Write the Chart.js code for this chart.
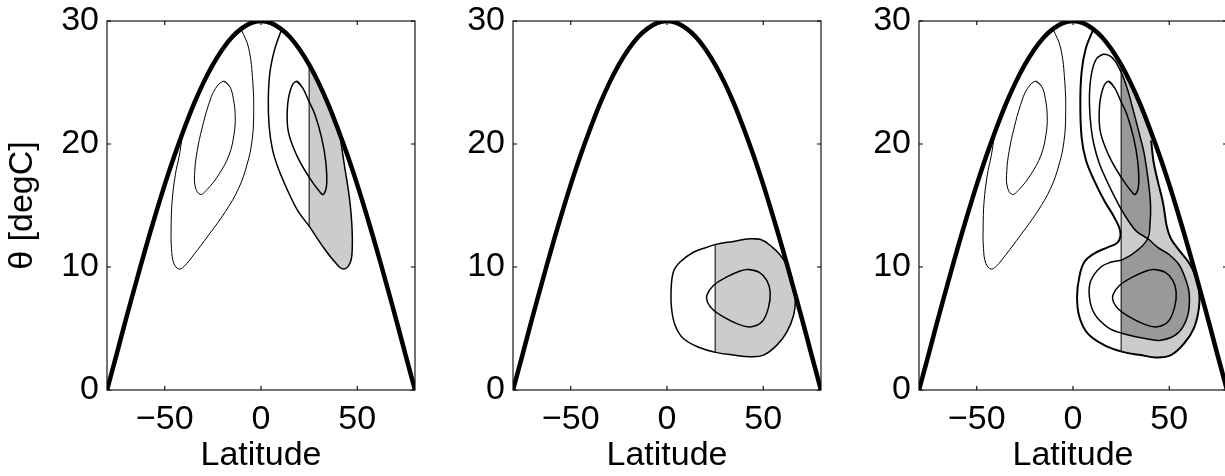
<!DOCTYPE html>
<html><head><meta charset="utf-8">
<script src="https://cdn.jsdelivr.net/npm/chart.js@4.4.1/dist/chart.umd.min.js"></script>
<style>
html,body{margin:0;padding:0;background:#fff;overflow:hidden;width:1225px;height:476px;}
#wrap{position:relative;width:1225px;height:476px;overflow:hidden;background:#fff;}
canvas{position:absolute;top:0;}
</style></head><body>
<div id="wrap">
<canvas id="p1" width="421" height="476" style="left:0px"></canvas>
<canvas id="p2" width="421" height="476" style="left:406px"></canvas>
<canvas id="p3" width="421" height="476" style="left:812px"></canvas>
</div>
<script>
// ---- axis ticks / titles ----
const xTickValues = [-50, 0, 50];
const xTickLabels = ['\u221250', '0', '50'];
const yTickValues = [0, 10, 20, 30];
const yTickLabels = ['0', '10', '20', '30'];
const xTitle = 'Latitude';
const yTitle = '\u03b8 [degC]';

// ---- thick boundary curve ----
const boundaryLat = [-80,-75,-70,-65,-60,-55,-50,-45,-40,-35,-30,-25,-20,-15,-10,-5,0,5,10,15,20,25,30,35,40,45,50,55,60,65,70,75,80];
const boundaryTheta = [0,2.9,5.85,8.7,11.5,14.15,16.7,19.05,21.2,23.2,24.95,26.45,27.7,28.7,29.4,29.85,30,29.85,29.4,28.7,27.7,26.45,24.95,23.2,21.2,19.05,16.7,14.15,11.5,8.7,5.85,2.9,0];

// ---- southern-side contours (panels 1 and 3) ----
const leftOuterContour = [[-10.2,29.3],[-6.4,27.8],[-4.3,25.1],[-3.8,22.4],[-4.7,20.2],[-7.3,18.3],[-11.6,16.4],[-18.5,14.5],[-27.2,12.6],[-34.9,11.0],[-40.1,10.03],[-42.7,9.84],[-45.3,10.3],[-46.5,11.5],[-46.7,13.1],[-46.2,15.3],[-44.5,17.5],[-42.4,19.1],[-40.9,20.6]];
const leftInnerLoop = [[-19.4,25.1],[-16.3,24.7],[-14.4,23.7],[-13.4,22.3],[-14.0,20.8],[-16.6,19.1],[-22.0,17.5],[-28.0,16.3],[-31.5,15.9],[-34.1,16.5],[-34.4,17.8],[-33.2,19.4],[-30.6,21.3],[-27.2,23.2],[-23.7,24.5]];

// ---- panel 1 northern contours ----
const rightOuterContour = [[10.7,29.3],[7.3,27.8],[4.7,25.9],[3.8,23.7],[4.2,21.5],[5.9,19.6],[9.0,18.0],[14.2,16.1],[19.4,14.5],[25.1,13.3],[31.5,11.8],[38.4,10.4],[42.7,9.84],[46.2,10.3],[47.4,11.5],[47.1,13.7],[45.7,15.9],[43.6,18.0],[41.3,20.4]];
const rightInnerLoop = [[18.5,25.1],[21.5,24.6],[24.5,23.6],[28.0,22.4],[31.5,20.5],[33.6,18.6],[34.1,16.7],[32.4,15.9],[30.6,16.1],[25.4,17.2],[18.5,19.1],[14.2,21.0],[13.7,22.9],[15.5,24.5]];
const p1Shade = [[25,13.3],[25,26.4],[25,26.4],[30,24.95],[35,23.2],[40,21.2],[41.3,20.5],[41.3,20.5],[43.6,18.0],[45.7,15.9],[47.1,13.7],[47.4,11.5],[46.2,10.3],[42.7,9.84],[38.4,10.4],[31.5,11.8],[25,13.3]];
const p1Divider = [[25,13.3],[25,26.4]];

// ---- panel 2 contours ----
const p2OuterLoop = [[43.2,12.3],[48.4,12.25],[53.6,11.76],[58.9,10.95],[63.2,9.87],[65.8,8.5],[66.7,7.4],[65.8,6.1],[62.3,4.73],[57.1,3.65],[50.2,2.84],[43.2,2.7],[34.5,2.84],[25.4,3.06],[17.2,3.43],[8.5,4.19],[4.2,5.27],[2.4,6.6],[2.1,7.97],[3.3,9.6],[6.8,10.4],[13.7,11.2],[20.7,11.6],[25.4,11.84],[34.5,12.08]];
const p2InnerLoop = [[42.3,9.8],[47.6,9.6],[51.9,8.9],[53.6,7.97],[52.8,6.76],[49.3,5.54],[43.2,5.13],[36.3,5.4],[29.3,5.95],[24.1,6.5],[21.0,7.16],[20.7,7.7],[24.1,8.5],[31.1,9.19],[38.0,9.68]];
const p2Shade = [[25,3.06],[25,11.84],[25,11.84],[34.5,12.08],[43.2,12.3],[48.4,12.25],[53.6,11.76],[58.9,10.95],[63.2,9.87],[65.8,8.5],[66.7,7.4],[65.8,6.1],[62.3,4.73],[57.1,3.65],[50.2,2.84],[43.2,2.7],[34.5,2.84],[25,3.06]];
const p2Divider = [[25,3.06],[25,11.84]];

// ---- panel 3 northern contours ----
const p3OuterContour = [[10.5,29.3],[6.7,27.8],[4.5,25.9],[3.8,23.3],[4.5,20.5],[6.7,18.7],[11.1,17.0],[16.2,15.4],[21.4,14.05],[24.6,12.84],[23.2,12.0],[18.0,11.6],[11.1,11.1],[5.9,10.4],[3.3,9.2],[2.1,7.6],[3.3,5.95],[7.6,4.6],[16.2,3.65],[25.8,3.1],[35.3,2.84],[43.1,2.65],[50.9,2.84],[57.8,3.8],[63.0,5.1],[65.5,6.75],[65.5,8.1],[63.8,9.2],[60.4,10.3],[55.2,11.35],[50.9,12.3],[48.8,13.25],[47.7,14.3],[46.5,15.4],[44.0,17.0],[41.8,18.6],[40.6,20.3]];
const p3MiddleLoop = [[16,27.3],[12.5,27.0],[10,26.0],[8.7,24.5],[8.6,23],[9.3,21.5],[10.8,20.0],[13.5,18.5],[17,17.2],[21,15.9],[25,14.7],[29,13.7],[33,12.9],[38.8,12.3],[44,11.6],[50,11.0],[55,10.2],[58.5,9.0],[60.4,7.8],[59.5,6.0],[54.3,4.6],[45.7,4.05],[37,4.2],[25.8,4.6],[18,5.1],[11.1,6.2],[8.5,7.6],[9.3,8.9],[14.5,10.0],[20,10.4],[25.8,10.6],[33,11.3],[38.8,12.3],[40,13.5],[40.3,15.0],[39.1,17.0],[37,19.2],[35,20.5],[32.7,21.9],[30.5,23.2],[28,24.6],[24.5,26.0],[20.5,27.0]];
const p3LightShade = [[25,3.12],[25,26.4],[25,26.4],[30,24.95],[35,23.2],[40,21.2],[40.6,20.3],[40.6,20.3],[41.8,18.6],[44.0,17.0],[46.5,15.4],[47.7,14.3],[48.8,13.25],[50.9,12.3],[55.2,11.35],[60.4,10.3],[63.8,9.2],[65.5,8.1],[65.5,6.75],[63.0,5.1],[57.8,3.8],[50.9,2.84],[43.1,2.65],[35.3,2.84],[25.8,3.1],[25,3.12]];
const p3DarkShade = [[25,14.7],[25,25.9],[25,25.9],[28,24.6],[30.5,23.2],[32.7,21.9],[35,20.5],[37,19.2],[39.1,17.0],[40.3,15.0],[40,13.5],[38.8,12.3],[44,11.6],[50,11.0],[55,10.2],[58.5,9.0],[60.4,7.8],[59.5,6.0],[54.3,4.6],[45.7,4.05],[37,4.2],[25.8,4.6],[25,4.62],[25,4.62],[25,10.6],[25,10.6],[33,11.3],[38.8,12.3],[33,12.9],[29,13.7],[25,14.7]];
const p3Divider = [[25,3.12],[25,26.4]];

// ---- helpers ----
const FONT = '"Liberation Sans", Arial, Helvetica, sans-serif';
const toXY = pts => pts.map(p => ({x: p[0], y: p[1]}));
const closed = pts => pts.concat([pts[0], pts[1]]);
const boundaryPts = boundaryLat.map((v, i) => [v, boundaryTheta[i]]);

function lineDs(pts, width, order) {
  return {data: toXY(pts), borderColor: '#000', borderWidth: width, pointRadius: 0,
    tension: 0.4, fill: false, order: order, clip: 0};
}
function straightDs(pts, width, order) {
  return {data: toXY(pts), borderColor: '#000', borderWidth: width, pointRadius: 0,
    tension: 0, fill: false, order: order, clip: 0};
}
function areaDs(pts, color, order) {
  return {data: toXY(pts), borderColor: 'rgba(0,0,0,0)', borderWidth: 0, backgroundColor: color,
    pointRadius: 0, tension: 0.4, fill: 'shape', order: order, clip: 0};
}

const boxPlugin = {
  id: 'matlabBox',
  afterDatasetsDraw(chart) {
    const {ctx, chartArea: a, scales} = chart;
    ctx.save();
    ctx.strokeStyle = '#000';
    ctx.lineWidth = 1.1;
    ctx.strokeRect(a.left, a.top, a.right - a.left, a.bottom - a.top);
    const tl = 4;
    ctx.beginPath();
    scales.x.ticks.forEach(t => {
      const px = scales.x.getPixelForValue(t.value);
      ctx.moveTo(px, a.bottom); ctx.lineTo(px, a.bottom - tl);
      ctx.moveTo(px, a.top); ctx.lineTo(px, a.top + tl);
    });
    scales.y.ticks.forEach(t => {
      const py = scales.y.getPixelForValue(t.value);
      ctx.moveTo(a.left, py); ctx.lineTo(a.left + tl, py);
      ctx.moveTo(a.right, py); ctx.lineTo(a.right - tl, py);
    });
    ctx.stroke();
    ctx.restore();
  }
};

function makePanel(id, datasets, showYTitle) {
  new Chart(document.getElementById(id), {
    type: 'line',
    data: {datasets: datasets},
    plugins: [boxPlugin],
    options: {
      responsive: false,
      devicePixelRatio: 1,
      animation: false,
      events: [],
      layout: {padding: {top: 21, right: 6, bottom: 0, left: 0}},
      plugins: {legend: {display: false}, tooltip: {enabled: false}, filler: {drawTime: 'beforeDatasetDraw'}},
      scales: {
        x: {
          type: 'linear', min: -80, max: 80,
          afterBuildTicks: s => { s.ticks = xTickValues.map(v => ({value: v})); },
          afterFit: s => { s.height = 86; s.paddingLeft = 0; s.paddingRight = 0; },
          grid: {display: false, drawTicks: false},
          border: {display: false},
          ticks: {autoSkip: false, maxRotation: 0, minRotation: 0, padding: 9, color: '#000',
            font: {family: FONT, size: 34},
            callback: v => xTickLabels[xTickValues.indexOf(v)]},
          title: {display: true, text: xTitle, color: '#000', font: {family: FONT, size: 34},
            padding: {top: 0, bottom: 0}}
        },
        y: {
          type: 'linear', min: 0, max: 30,
          afterBuildTicks: s => { s.ticks = yTickValues.map(v => ({value: v})); },
          afterFit: s => { s.width = 107; s.paddingTop = 0; s.paddingBottom = 0; },
          grid: {display: false, drawTicks: false},
          border: {display: false},
          ticks: {autoSkip: false, padding: 8, color: '#000', font: {family: FONT, size: 34},
            callback: v => yTickLabels[yTickValues.indexOf(v)]},
          title: {display: showYTitle, text: yTitle, color: '#000', font: {family: FONT, size: 34},
            padding: {top: 2, bottom: 0}}
        }
      }
    }
  });
}

makePanel('p1', [
  areaDs(p1Shade, '#cccccc', 6),
  straightDs(p1Divider, 1, 1),
  lineDs(leftOuterContour, 1, 1),
  lineDs(closed(leftInnerLoop), 1, 1),
  lineDs(rightOuterContour, 1.5, 1),
  lineDs(closed(rightInnerLoop), 1.5, 1),
  lineDs(boundaryPts, 4.5, -1)
], true);

makePanel('p2', [
  areaDs(p2Shade, '#cccccc', 6),
  straightDs(p2Divider, 1, 1),
  lineDs(closed(p2OuterLoop), 1.5, 1),
  lineDs(closed(p2InnerLoop), 1.5, 1),
  lineDs(boundaryPts, 4.5, -1)
], false);

makePanel('p3', [
  areaDs(p3LightShade, '#cccccc', 6),
  areaDs(p3DarkShade, '#999999', 5),
  straightDs(p3Divider, 1, 1),
  lineDs(leftOuterContour, 1, 1),
  lineDs(closed(leftInnerLoop), 1, 1),
  lineDs(p3OuterContour, 2, 1),
  lineDs(closed(p3MiddleLoop), 1.5, 1),
  lineDs(closed(rightInnerLoop), 1.5, 1),
  lineDs(closed(p2InnerLoop), 1.5, 1),
  lineDs(boundaryPts, 4.5, -1)
], false);
</script>
</body></html>
